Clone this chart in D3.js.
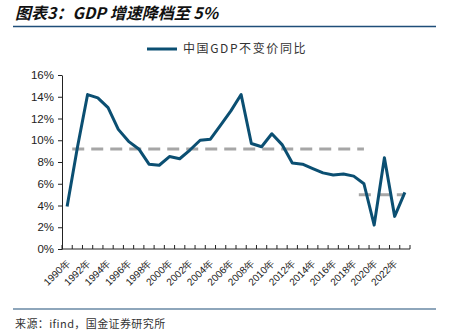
<!DOCTYPE html>
<html>
<head>
<meta charset="utf-8">
<script src="https://cdn.jsdelivr.net/npm/d3@7"></script>
<style>
  body { margin: 0; background: #fff; }
  svg { display: block; }
</style>
</head>
<body>
<div id="chart"></div>
<script>
const years = d3.range(1990, 2024).map(String);
const gdp = [3.9, 9.3, 14.2, 13.9, 13.0, 11.0, 9.9, 9.2, 7.8, 7.7,
             8.5, 8.3, 9.1, 10.0, 10.1, 11.4, 12.7, 14.2, 9.7, 9.4,
             10.6, 9.6, 7.9, 7.8, 7.4, 7.0, 6.8, 6.9, 6.7, 6.0,
             2.2, 8.4, 3.0, 5.2];
const avgOld = 9.2;   // 1991-2019
const avgNew = 5.0;   // 2019-2023
const yTicks = [0, 2, 4, 6, 8, 10, 12, 14, 16];

const width = 454, height = 334;
const margin = { top: 75, right: 44, bottom: 85, left: 62 };

const svg = d3.select('#chart').append('svg')
  .attr('width', width)
  .attr('height', height)
  .attr('viewBox', [0, 0, width, height]);

// title + rules
svg.append('text')
  .attr('x', 15).attr('y', 19)
  .attr('font-family', '"Noto Sans CJK SC", sans-serif')
  .attr('font-size', 16).attr('font-weight', 'bold').attr('font-style', 'italic')
  .attr('fill', '#111')
  .text('图表3：GDP 增速降档至 5%');

svg.append('line').attr('x1', 13).attr('x2', 436).attr('y1', 26.5).attr('y2', 26.5)
  .attr('stroke', '#1f4e79').attr('stroke-width', 1.5);
svg.append('line').attr('x1', 13).attr('x2', 436).attr('y1', 309).attr('y2', 309)
  .attr('stroke', '#1f4e79').attr('stroke-width', 1.2);

svg.append('text')
  .attr('x', 15).attr('y', 328)
  .attr('font-family', '"Noto Sans CJK SC", sans-serif')
  .attr('font-size', 11).attr('letter-spacing', 0.4).attr('fill', '#333')
  .text('来源：ifind，国金证券研究所');

// scales
const x = d3.scaleBand().domain(years).range([margin.left, width - margin.right]).padding(0);
const y = d3.scaleLinear().domain([0, 16]).range([height - margin.bottom, margin.top]);
const cx = d => x(d) + x.bandwidth() / 2;

// axes
const yAxis = svg.append('g')
  .attr('transform', `translate(${margin.left},0)`)
  .call(d3.axisLeft(y).tickValues(yTicks).tickFormat(d => d + '%').tickSize(4).tickSizeOuter(0));
yAxis.selectAll('text').attr('font-family', 'Arial, "Liberation Sans", sans-serif')
  .attr('font-size', 11.5).attr('fill', '#222').attr('dx', -1);
yAxis.selectAll('line, path').attr('stroke', '#222');

const xAxis = svg.append('g')
  .attr('transform', `translate(0,${y(0)})`)
  .call(d3.axisBottom(x).tickSize(0).tickFormat(''));
xAxis.select('path').attr('stroke', '#222').attr('d', `M${margin.left},0H${width - margin.right}`);

// ticks at band boundaries
xAxis.selectAll('.bnd')
  .data(years.concat(['end']))
  .join('line')
  .attr('class', 'bnd')
  .attr('x1', d => d === 'end' ? x.range()[1] : x(d))
  .attr('x2', d => d === 'end' ? x.range()[1] : x(d))
  .attr('y1', 0).attr('y2', -4)
  .attr('stroke', '#222');

xAxis.selectAll('.lbl')
  .data(years.filter((d, i) => i % 2 === 0))
  .join('text')
  .attr('class', 'lbl')
  .attr('transform', d => `translate(${cx(d) + 1},${12}) rotate(-45)`)
  .attr('text-anchor', 'end')
  .attr('dy', '0.35em')
  .attr('font-family', 'Arial, "Liberation Sans", sans-serif')
  .attr('font-size', 10).attr('fill', '#222')
  .text(d => d + '年');

// dashed average lines
const dashStyle = sel => sel.attr('stroke', '#a6a6a6').attr('stroke-width', 3)
  .attr('stroke-dasharray', '12,7').attr('fill', 'none');

svg.append('line')
  .attr('x1', x('1991')).attr('x2', cx('2019'))
  .attr('y1', y(avgOld)).attr('y2', y(avgOld))
  .call(dashStyle);
svg.append('line')
  .attr('x1', x('2019')).attr('x2', cx('2023'))
  .attr('y1', y(avgNew)).attr('y2', y(avgNew))
  .call(dashStyle);

// GDP line
const line = d3.line().x((d, i) => cx(years[i])).y(d => y(d));
svg.append('path')
  .datum(gdp)
  .attr('d', line)
  .attr('fill', 'none')
  .attr('stroke', '#0b4f72')
  .attr('stroke-width', 3)
  .attr('stroke-linejoin', 'round');

// legend
const lg = svg.append('g').attr('transform', 'translate(147,49)');
lg.append('line').attr('x1', 0).attr('x2', 30).attr('y1', 0).attr('y2', 0)
  .attr('stroke', '#0b4f72').attr('stroke-width', 3);
lg.append('text').attr('x', 36).attr('y', 0).attr('dy', '0.35em')
  .attr('font-family', '"Noto Sans CJK SC", sans-serif')
  .attr('font-size', 12).attr('letter-spacing', 1.6).attr('fill', '#333')
  .text('中国GDP不变价同比');
</script>
</body>
</html>
